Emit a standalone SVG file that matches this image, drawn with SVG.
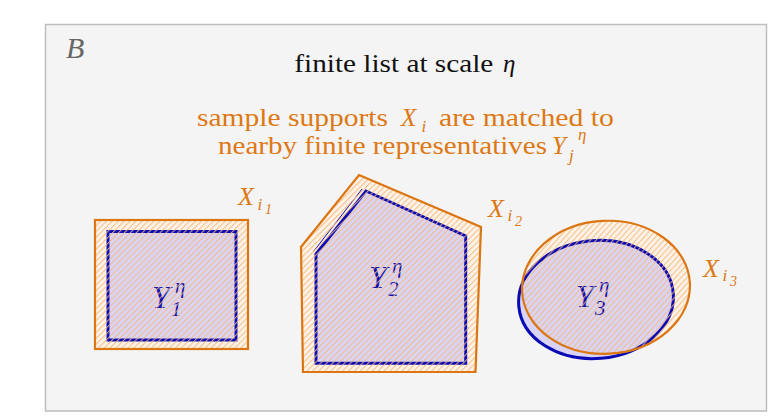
<svg xmlns="http://www.w3.org/2000/svg" width="777" height="419" viewBox="0 0 777 419">
<defs>
<pattern id="hatch" patternUnits="userSpaceOnUse" width="4.2" height="10" patternTransform="rotate(45)">
<line x1="0.6" y1="0" x2="0.6" y2="10" stroke="#F6B878" stroke-width="0.9"/>
</pattern>
<style>
.panel{fill:#F4F4F4;stroke:#BEBEBE;stroke-width:1.5}
.xbase{fill:#FCF2E8;stroke:none}
.xs{fill:url(#hatch);stroke:#DB7612;stroke-width:2.2;stroke-linejoin:miter}
.ys{fill:#D9D4F6;stroke:#0A0AB4;stroke-width:3;stroke-linejoin:miter}
.serif{font-family:"Liberation Serif","Times New Roman",serif}
.it{font-style:italic}
.rm{font-style:normal}
.title{font-size:25px;fill:#111}
.orange{font-size:25px;fill:#DD7814}
.osub{font-size:17px;fill:#DD7814}
.xl{fill:#DD7814;font-style:italic}
.yl{fill:#1010B0;font-style:italic}
</style>
</defs>
<rect class="panel" x="45.5" y="24.5" width="721" height="386.5"/>
<text class="serif it" x="66" y="58" font-size="30" fill="#666">B</text>

<g id="title">
<text class="serif title" x="294.3" y="71.7" textLength="199" lengthAdjust="spacingAndGlyphs">finite list at scale</text>
<text class="serif title it" x="503" y="71.7">η</text>
</g>
<g id="caption">
<text class="serif orange" x="197" y="126" textLength="191" lengthAdjust="spacingAndGlyphs">sample supports</text>
<text class="serif orange it" x="401" y="126">X</text>
<text class="serif osub it" x="421.5" y="131.5">i</text>
<text class="serif orange" x="439" y="126" textLength="175" lengthAdjust="spacingAndGlyphs">are matched to</text>
<text class="serif orange" x="218" y="154.3" textLength="329" lengthAdjust="spacingAndGlyphs">nearby finite representatives</text>
<text class="serif orange it" x="552" y="154.3">Y</text>
<text class="serif osub it" x="569" y="160.5">j</text>
<text class="serif osub it" x="578" y="140">η</text>
</g>

<g id="x-underlays">
<rect class="xbase" x="95" y="220" width="153" height="129"/>
<polygon class="xbase" points="359,175 481,227 475.5,372 303,372 301,247"/>
<ellipse class="xbase" cx="606" cy="287.3" rx="84" ry="66.5" transform="rotate(-3 606 287.3)"/>
</g>

<g id="node-Y1">
<rect class="ys" x="108" y="231.5" width="128" height="108.5"/>
<text class="serif yl" x="152" y="308" font-size="32">Y</text>
<text class="serif yl rm" x="171" y="316" font-size="21">1</text>
<text class="serif yl" x="175" y="293" font-size="21">η</text>
</g>
<g id="node-Y2">
<polygon class="ys" points="366,191 465.7,236 465.7,363.3 316,363.3 316,254"/>
<line x1="313.5" y1="251.5" x2="362" y2="189" stroke="#0A0AB4" stroke-width="1"/>
<text class="serif yl" x="369" y="288.3" font-size="32">Y</text>
<text class="serif yl rm" x="388" y="296.3" font-size="21">2</text>
<text class="serif yl" x="392" y="273.3" font-size="21">η</text>
</g>
<g id="node-Y3">
<ellipse class="ys" cx="596" cy="299.5" rx="77.5" ry="59" transform="rotate(-5 596 299.5)"/>
<text class="serif yl" x="576" y="307.3" font-size="32">Y</text>
<text class="serif yl rm" x="595" y="315.3" font-size="21">3</text>
<text class="serif yl" x="599" y="292.3" font-size="21">η</text>
</g>

<g id="node-X1">
<rect class="xs" x="95" y="220" width="153" height="129"/>
<text class="serif xl" x="238" y="205" font-size="26">X</text>
<text class="serif xl" x="257.5" y="209.5" font-size="17">i</text>
<text class="serif xl rm" x="265" y="214" font-size="14">1</text>
</g>
<g id="node-X2">
<polygon class="xs" points="359,175 481,227 475.5,372 303,372 301,247"/>
<text class="serif xl" x="488" y="216.7" font-size="26">X</text>
<text class="serif xl" x="507.5" y="221.2" font-size="17">i</text>
<text class="serif xl rm" x="515" y="225.7" font-size="14">2</text>
</g>
<g id="node-X3">
<ellipse class="xs" cx="606" cy="287.3" rx="84" ry="66.5" transform="rotate(-3 606 287.3)"/>
<text class="serif xl" x="703" y="276.7" font-size="26">X</text>
<text class="serif xl" x="722.5" y="281.2" font-size="17">i</text>
<text class="serif xl rm" x="730" y="285.7" font-size="14">3</text>
</g>
<g id="connectors"/>
</svg>
